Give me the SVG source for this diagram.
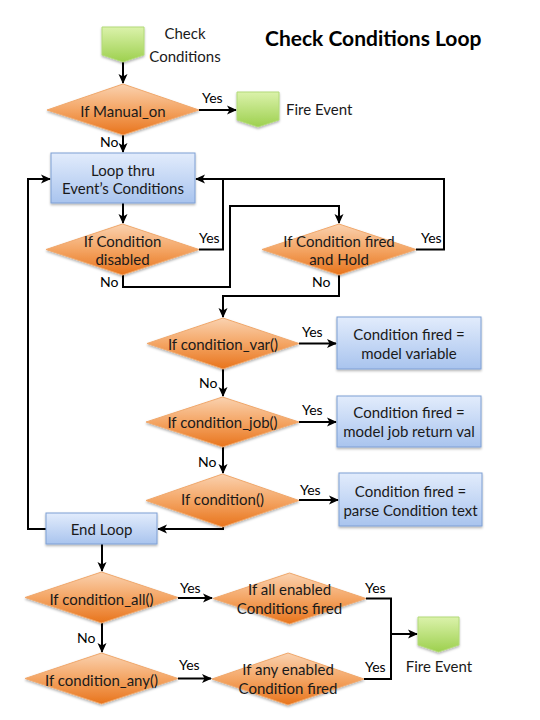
<svg xmlns="http://www.w3.org/2000/svg" width="540" height="720" viewBox="0 0 540 720">
<defs>
<linearGradient id="gOr" x1="0" y1="0" x2="0" y2="1">
<stop offset="0" stop-color="#fad2b0"/>
<stop offset="0.5" stop-color="#f4a564"/>
<stop offset="1" stop-color="#e8741c"/>
</linearGradient>
<linearGradient id="gBl" x1="0" y1="0" x2="0" y2="1">
<stop offset="0" stop-color="#e2ecfc"/>
<stop offset="1" stop-color="#a9c4ee"/>
</linearGradient>
<linearGradient id="gGr" x1="0" y1="0" x2="0" y2="1">
<stop offset="0" stop-color="#dbf2ab"/>
<stop offset="1" stop-color="#9dd04e"/>
</linearGradient>
<filter id="sh" x="-10%" y="-10%" width="130%" height="140%">
<feDropShadow dx="0" dy="1.5" stdDeviation="1.2" flood-color="#000" flood-opacity="0.3"/>
</filter>
<marker id="ar" viewBox="0 0 10 10" refX="9" refY="5" markerWidth="10" markerHeight="10" markerUnits="userSpaceOnUse" orient="auto">
<path d="M0,0.5 L10,5 L0,9.5 L2.5,5 Z" fill="#000"/>
</marker>
</defs>
<style>
text{font-family:Lato,"Liberation Sans",sans-serif;font-size:15px;fill:#1a1a1a}
.c{text-anchor:middle}
.t{font-size:21px;font-weight:bold;fill:#000}
.d{fill:url(#gOr);stroke:#f0a86c;stroke-width:1;filter:url(#sh)}
.b{fill:url(#gBl);stroke:#7f9fd4;stroke-width:1;filter:url(#sh)}
.g{fill:url(#gGr);stroke:#b2da78;stroke-width:1;filter:url(#sh)}
.ln{fill:none;stroke:#000;stroke-width:2}
.a{marker-end:url(#ar)}
.l{fill:#000;font-size:14px}
</style>

<text class="t" x="265" y="46">Check Conditions Loop</text>

<g id="connectors">
<path class="ln a" d="M123,62 V83"/>
<path class="ln a" d="M199,110 H236"/>
<path class="ln a" d="M123,135 V152"/>
<path class="ln a" d="M123,203 V223"/>
<path class="ln" d="M199,249.5 H223 V179"/>
<path class="ln a" d="M416,249.5 H444 V179 H196"/>
<path class="ln a" d="M123,275 V287 H230 V206 H339 V223"/>
<path class="ln a" d="M339,275 V296 H223 V317"/>
<path class="ln a" d="M299,343.5 H336"/>
<path class="ln a" d="M223,369 V396"/>
<path class="ln a" d="M299,422 H336"/>
<path class="ln a" d="M223,447 V473"/>
<path class="ln a" d="M299,500 H338"/>
<path class="ln a" d="M223,527 V529 H158"/>
<path class="ln a" d="M46,529 H28 V179 H50"/>
<path class="ln a" d="M102,544 V571"/>
<path class="ln a" d="M178,598 H212"/>
<path class="ln a" d="M102,623 V652"/>
<path class="ln a" d="M178,678.5 H211"/>
<path class="ln" d="M366,598.5 H391 V679 H364"/>
<path class="ln a" d="M391,634 H417"/>
<text class="l" x="202" y="103">Yes</text>
<text class="l" x="100" y="147">No</text>
<text class="l" x="199" y="243">Yes</text>
<text class="l" x="100" y="287">No</text>
<text class="l" x="421" y="243">Yes</text>
<text class="l" x="312" y="287">No</text>
<text class="l" x="302" y="337">Yes</text>
<text class="l" x="199" y="388">No</text>
<text class="l" x="302" y="415">Yes</text>
<text class="l" x="198" y="467">No</text>
<text class="l" x="300" y="495">Yes</text>
<text class="l" x="180" y="593">Yes</text>
<text class="l" x="365" y="593">Yes</text>
<text class="l" x="77" y="643">No</text>
<text class="l" x="179" y="670">Yes</text>
<text class="l" x="365" y="672">Yes</text>
</g>

<g id="start">
<path class="g" d="M102,27 H144 V55 L123,62 L102,55 Z"/>
<text class="c" x="185" y="39">Check</text>
<text class="c" x="185" y="62">Conditions</text>
</g>

<g id="fire1">
<path class="g" d="M237,92 H279 V120 L258,127 L237,120 Z"/>
<text x="286" y="115">Fire Event</text>
</g>

<g id="manual">
<path class="d" d="M47,110 L123,84 L199,110 L123,135 Z"/>
<text class="c" x="123" y="117">If Manual_on</text>
</g>

<g id="loop">
<rect class="b" x="51" y="153" width="144" height="50"/>
<text class="c" x="123" y="176">Loop thru</text>
<text class="c" x="123" y="194">Event’s Conditions</text>
</g>

<g id="disabled">
<path class="d" d="M46,249.5 L122.5,224 L199,249.5 L122.5,275 Z"/>
<text class="c" x="122.5" y="247">If Condition</text>
<text class="c" x="122.5" y="265">disabled</text>
</g>

<g id="firedhold">
<path class="d" d="M262,249.5 L339,224 L416,249.5 L339,275 Z"/>
<text class="c" x="339" y="247">If Condition fired</text>
<text class="c" x="339" y="265">and Hold</text>
</g>

<g id="condvar">
<path class="d" d="M147,343.5 L223,318 L299,343.5 L223,369 Z"/>
<text class="c" x="223" y="350">If condition_var()</text>
</g>

<g id="modelvar">
<rect class="b" x="337" y="317" width="144" height="52"/>
<text class="c" x="409" y="340">Condition fired =</text>
<text class="c" x="409" y="359">model variable</text>
</g>

<g id="condjob">
<path class="d" d="M146,422 L222.5,397 L299,422 L222.5,447 Z"/>
<text class="c" x="222.5" y="428">If condition_job()</text>
</g>

<g id="modeljob">
<rect class="b" x="337" y="396" width="144" height="51"/>
<text class="c" x="409" y="418">Condition fired =</text>
<text class="c" x="409" y="437">model job return val</text>
</g>

<g id="cond">
<path class="d" d="M146,500.5 L222.5,474 L299,500.5 L222.5,527 Z"/>
<text class="c" x="222.5" y="505">If condition()</text>
</g>

<g id="parse">
<rect class="b" x="339" y="473" width="143" height="53"/>
<text class="c" x="410.5" y="497">Condition fired =</text>
<text class="c" x="410.5" y="516">parse Condition text</text>
</g>

<g id="endloop">
<rect class="b" x="46" y="513" width="111" height="31"/>
<text class="c" x="101.5" y="535">End Loop</text>
</g>

<g id="condall">
<path class="d" d="M25,597.5 L101.5,572 L178,597.5 L101.5,623 Z"/>
<text class="c" x="101.5" y="605">If condition_all()</text>
</g>

<g id="allenabled">
<path class="d" d="M213,598.5 L289.5,573 L366,598.5 L289.5,624 Z"/>
<text class="c" x="289.5" y="595">If all enabled</text>
<text class="c" x="289.5" y="614">Conditions fired</text>
</g>

<g id="condany">
<path class="d" d="M25,678.5 L101.5,653 L178,678.5 L101.5,704 Z"/>
<text class="c" x="101.5" y="686">If condition_any()</text>
</g>

<g id="anyenabled">
<path class="d" d="M212,679 L288,653 L364,679 L288,705 Z"/>
<text class="c" x="288" y="675">If any enabled</text>
<text class="c" x="288" y="694">Condition fired</text>
</g>

<g id="fire2">
<path class="g" d="M418,617 H459 V645 L438.5,652 L418,645 Z"/>
<text class="c" x="439" y="672">Fire Event</text>
</g>
</svg>
